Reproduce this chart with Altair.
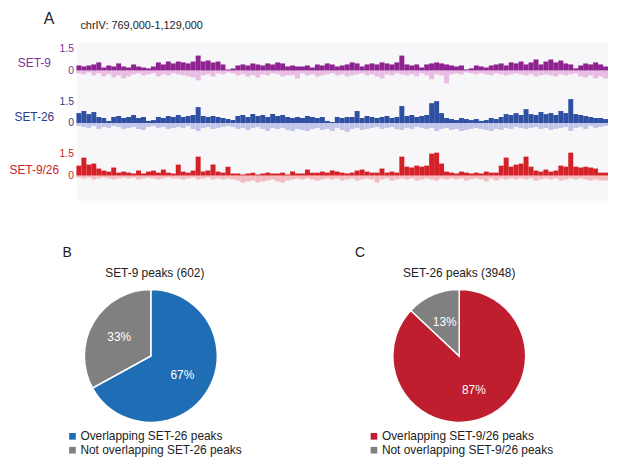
import altair as alt
import pandas as pd

FONT = "Liberation Sans"

# ---------------- data ----------------
PANEL_LABELS = ["A", "B", "C"]
REGION = "chrIV: 769,000-1,129,000"
TRACK_NAMES = ["SET-9", "SET-26", "SET-9/26"]
AXIS_TICKS = [0, 1.5]

set9_pos = [0.34,0.27,0.34,0.41,0.55,0.2,0.34,0.27,0.48,0.27,
            0.2,0.41,0.27,0.2,0.14,0.27,0.55,0.41,0.61,0.48,
            0.61,0.55,0.48,0.61,1.02,0.61,0.68,0.55,0.61,0.41,
            0.07,0.14,0.34,0.41,0.34,0.48,0.41,0.34,0.48,0.41,
            0.55,0.48,0.27,0.34,0.27,0.27,0.34,0.2,0.41,0.34,
            0.48,0.41,0.27,0.34,0.41,0.55,0.48,0.27,0.41,0.48,
            0.41,0.55,0.48,0.41,0.55,1.02,0.41,0.34,0.41,0.2,
            0.41,0.48,0.55,0.48,0.41,0.34,0.27,0.34,0.07,0.14,
            0.34,0.27,0.2,0.34,0.41,0.48,0.34,0.55,0.48,0.61,
            0.41,0.55,0.75,0.41,0.61,0.75,0.55,0.68,0.48,0.41,
            0.14,0.34,0.48,0.41,0.55,0.41,0.27]
set9_neg = [-0.2,-0.27,-0.14,-0.34,-0.2,-0.41,-0.27,-0.48,-0.34,-0.55,
            -0.41,-0.27,-0.2,-0.34,-0.27,-0.2,-0.41,-0.27,-0.34,-0.2,
            -0.27,-0.34,-0.41,-0.48,-0.68,-0.34,-0.27,-0.41,-0.2,-0.27,
            -0.14,-0.2,-0.34,-0.27,-0.41,-0.34,-0.48,-0.27,-0.34,-0.2,
            -0.27,-0.41,-0.34,-0.34,-0.55,-0.2,-0.34,-0.27,-0.41,-0.34,
            -0.27,-0.2,-0.34,-0.27,-0.41,-0.34,-0.27,-0.2,-0.34,-0.27,
            -0.41,-0.55,-0.27,-0.34,-0.2,-0.27,-0.34,-0.27,-0.41,-0.2,
            -0.34,-0.61,-0.27,-0.34,-0.89,-0.27,-0.2,-0.27,-0.14,-0.2,
            -0.27,-0.2,-0.27,-0.34,-0.2,-0.27,-0.34,-0.27,-0.2,-0.27,
            -0.34,-0.27,-0.41,-0.34,-0.27,-0.34,-0.41,-0.27,-0.34,-0.27,
            -0.2,-0.41,-0.48,-0.34,-0.55,-0.41,-0.55]

set26_pos = [0.68,0.82,0.61,0.75,0.41,0.34,0.14,0.41,0.48,0.34,
             0.41,0.55,0.34,0.41,0.14,0.2,0.41,0.34,0.48,0.41,
             0.55,0.41,0.48,0.55,1.09,0.48,0.41,0.48,0.41,0.34,
             0.27,0.2,0.48,0.55,0.41,0.61,0.48,0.55,0.41,0.61,
             0.48,0.55,0.41,0.34,0.41,0.34,0.48,0.41,0.34,0.41,
             0.14,0.07,0.41,0.34,0.41,0.41,0.82,0.34,0.48,0.41,
             0.34,0.41,0.48,0.34,0.41,1.16,0.48,0.55,0.41,0.48,
             0.55,1.36,1.5,0.68,0.34,0.27,0.2,0.34,0.27,0.2,
             0.27,0.14,0.2,0.34,0.27,0.41,0.61,0.55,0.68,0.55,
             0.95,0.61,0.55,0.75,0.61,0.68,0.55,0.82,0.68,1.64,
             0.61,0.55,0.48,0.41,0.34,0.34,0.27]
set26_neg = [-0.2,-0.27,-0.34,-0.2,-0.41,-0.27,-0.34,-0.2,-0.27,-0.41,
             -0.34,-0.27,-0.41,-0.48,-0.27,-0.2,-0.34,-0.27,-0.41,-0.34,
             -0.27,-0.34,-0.2,-0.41,-0.55,-0.34,-0.27,-0.41,-0.34,-0.27,
             -0.2,-0.27,-0.41,-0.34,-0.48,-0.34,-0.27,-0.41,-0.55,-0.34,
             -0.41,-0.34,-0.48,-0.55,-0.41,-0.48,-0.55,-0.41,-0.34,-0.48,
             -0.41,-0.55,-0.34,-0.48,-0.61,-0.41,-0.34,-0.48,-0.41,-0.34,
             -0.27,-0.41,-0.34,-0.27,-0.41,-0.48,-0.34,-0.41,-0.27,-0.34,
             -0.41,-0.34,-0.55,-0.41,-0.34,-0.48,-0.41,-0.55,-0.48,-0.41,
             -0.34,-0.41,-0.48,-0.55,-0.41,-0.48,-0.34,-0.41,-0.27,-0.34,
             -0.41,-0.34,-0.27,-0.41,-0.34,-0.48,-0.41,-0.34,-0.27,-0.55,
             -0.34,-0.27,-0.41,-0.2,-0.34,-0.27,-0.2]

set926_pos = [0.68,1.23,0.75,0.82,0.48,0.34,0.27,0.55,0.2,0.27,
              0.2,0.14,0.34,0.14,0.27,0.34,0.2,0.41,0.2,0.14,
              0.75,0.27,0.2,0.34,1.3,0.27,0.34,0.75,0.27,0.2,
              0.61,0.14,0.14,0.07,0.14,0.2,0.07,0.14,0.2,0.14,
              0.14,0.2,0.07,0.27,0.14,0.14,0.41,0.2,0.2,0.27,
              0.2,0.34,0.27,0.2,0.14,0.2,0.34,0.41,0.27,0.2,
              0.2,0.48,0.2,0.27,0.2,1.3,0.61,0.55,0.68,0.61,
              0.68,1.5,1.57,0.82,0.27,0.2,0.14,0.27,0.2,0.14,
              0.2,0.14,0.27,0.2,0.2,0.68,1.23,0.61,0.75,0.82,
              1.3,0.61,0.34,0.27,0.41,0.27,0.34,0.68,0.61,1.57,
              0.61,0.55,0.61,0.55,0.48,0.2,0.2]
set926_neg = [-0.14,-0.2,-0.14,-0.27,-0.2,-0.14,-0.2,-0.27,-0.2,-0.14,
              -0.2,-0.14,-0.27,-0.2,-0.14,-0.2,-0.27,-0.2,-0.14,-0.2,
              -0.2,-0.27,-0.2,-0.14,-0.27,-0.2,-0.14,-0.27,-0.2,-0.27,
              -0.2,-0.27,-0.34,-0.48,-0.41,-0.34,-0.48,-0.41,-0.34,-0.27,
              -0.41,-0.48,-0.34,-0.27,-0.2,-0.27,-0.2,-0.27,-0.34,-0.27,
              -0.2,-0.27,-0.2,-0.34,-0.27,-0.2,-0.34,-0.27,-0.2,-0.27,
              -0.48,-0.27,-0.2,-0.34,-0.27,-0.2,-0.27,-0.2,-0.34,-0.27,
              -0.2,-0.27,-0.34,-0.2,-0.27,-0.2,-0.27,-0.2,-0.34,-0.27,
              -0.2,-0.27,-0.41,-0.2,-0.34,-0.2,-0.27,-0.2,-0.27,-0.2,
              -0.27,-0.2,-0.34,-0.27,-0.2,-0.27,-0.2,-0.34,-0.27,-0.2,
              -0.27,-0.2,-0.27,-0.34,-0.27,-0.34,-0.34]

PIE_B_TITLE = "SET-9 peaks (602)"
PIE_B_CATS = ["Overlapping SET-26 peaks", "Not overlapping SET-26 peaks"]
PIE_B_VALUES = [67, 33]
PIE_C_TITLE = "SET-26 peaks (3948)"
PIE_C_CATS = ["Overlapping SET-9/26 peaks", "Not overlapping SET-9/26 peaks"]
PIE_C_VALUES = [87, 13]

# ---------------- styles ----------------
W = 536
TRACK_H = 53
Y_DOMAIN = [-1.70, 1.91]
BG = "#f7f7f9"
TRACK_STYLE = [
    ("#8e2290", "#e9bde3", "#7e3296"),
    ("#2f4fa3", "#c2c5ea", "#2e3b88"),
    ("#d42027", "#f4babd", "#cc2229"),
]
N = len(set9_pos)


def one_text(value, x, y, size, align="left", color="#222222"):
    return alt.Chart(pd.DataFrame({"t": [value]})).mark_text(
        align=align, baseline="middle", fontSize=size, font=FONT, color=color
    ).encode(text="t:N", x=alt.value(x), y=alt.value(y))


def track(name, pos, neg, style, title_y, extra=()):
    dark, light, lab = style
    df = pd.DataFrame({"bin": list(range(len(pos))), "pos": pos, "neg": neg})
    base = alt.Chart(df).transform_calculate(bin_end="datum.bin + 1")
    x = alt.X("bin:Q", scale=alt.Scale(domain=[0, N], nice=False, zero=False), axis=None)
    ysc = alt.Scale(domain=Y_DOMAIN, nice=False, zero=False)
    ax = alt.Axis(values=AXIS_TICKS, format=".2~g", domain=False, ticks=False, grid=False,
                  labelColor=lab, labelFontSize=10.5, labelPadding=3, labelFont=FONT,
                  titleAngle=0, titleAlign="center", titleBaseline="middle",
                  titleX=-43, titleY=title_y, titleColor=lab, titleFontSize=12,
                  titleFontWeight="normal", titleFont=FONT)
    negb = base.mark_rect(color=light).encode(
        x=x, x2="bin_end:Q", y=alt.Y("neg:Q", scale=ysc, axis=ax, title=name), y2=alt.datum(0))
    posb = base.mark_rect(color=dark).encode(
        x=x, x2="bin_end:Q", y=alt.Y("pos:Q", scale=ysc, axis=ax, title=name), y2=alt.datum(0))
    return alt.layer(negb, posb, *extra).properties(
        width=W, height=TRACK_H, view=alt.ViewBackground(fill=BG, stroke="transparent"))


t1 = track(TRACK_NAMES[0], set9_pos, set9_neg, TRACK_STYLE[0], 20,
           extra=[one_text(PANEL_LABELS[0], -33, -24, 16),
                  one_text(REGION, 4, -17, 11)])
t2 = track(TRACK_NAMES[1], set26_pos, set26_neg, TRACK_STYLE[1], 22)
t3 = track(TRACK_NAMES[2], set926_pos, set926_neg, TRACK_STYLE[2], 22)


def pie(cats, values, colors, cx, cy, lx, ly):
    df = pd.DataFrame({"cat": cats, "pct": values, "ord": list(range(len(cats))),
                       "label": [f"{v}%" for v in values]})
    base = alt.Chart(df).encode(theta=alt.Theta("pct:Q", stack=True), order=alt.Order("ord:Q"))
    arc = base.mark_arc(radius=67, stroke="white", strokeWidth=1.5).encode(
        color=alt.Color("cat:N", scale=alt.Scale(domain=cats, range=colors), title=None,
                        legend=alt.Legend(orient="none", legendX=lx, legendY=ly,
                                          symbolType="square", symbolSize=45,
                                          symbolStrokeWidth=0, labelFontSize=12,
                                          labelFont=FONT, labelColor="#222222",
                                          labelOffset=2, rowPadding=2, padding=0,
                                          labelLimit=300)),
        x=alt.value(cx), y=alt.value(cy))
    txt = base.mark_text(radius=37, fontSize=12, color="white", font=FONT).encode(
        text="label:N", x=alt.value(cx), y=alt.value(cy))
    return arc, txt


arcB, txtB = pie(PIE_B_CATS, PIE_B_VALUES, ["#1f6db5", "#808080"], 75, 157, -10, 232)
arcC, txtC = pie(PIE_C_CATS, PIE_C_VALUES, ["#be1e2d", "#808080"], 386, 157, 294, 232)

pies = alt.layer(
    arcB, txtB, arcC, txtC,
    one_text(PANEL_LABELS[1], -14, 53, 14),
    one_text(PANEL_LABELS[2], 281, 53, 14),
    one_text(PIE_B_TITLE, 79, 73, 12, align="center"),
    one_text(PIE_C_TITLE, 386, 73, 12, align="center"),
).resolve_scale(color="independent").properties(
    width=W, height=262, view=alt.ViewBackground(fill="white", stroke="transparent"))

chart = alt.vconcat(t1, t2, t3, pies, spacing=0, bounds="flush").properties(
    padding=0).configure_view(strokeWidth=0).configure(font=FONT)

chart.save("out.html", embed_options={"renderer": "svg", "actions": False})
